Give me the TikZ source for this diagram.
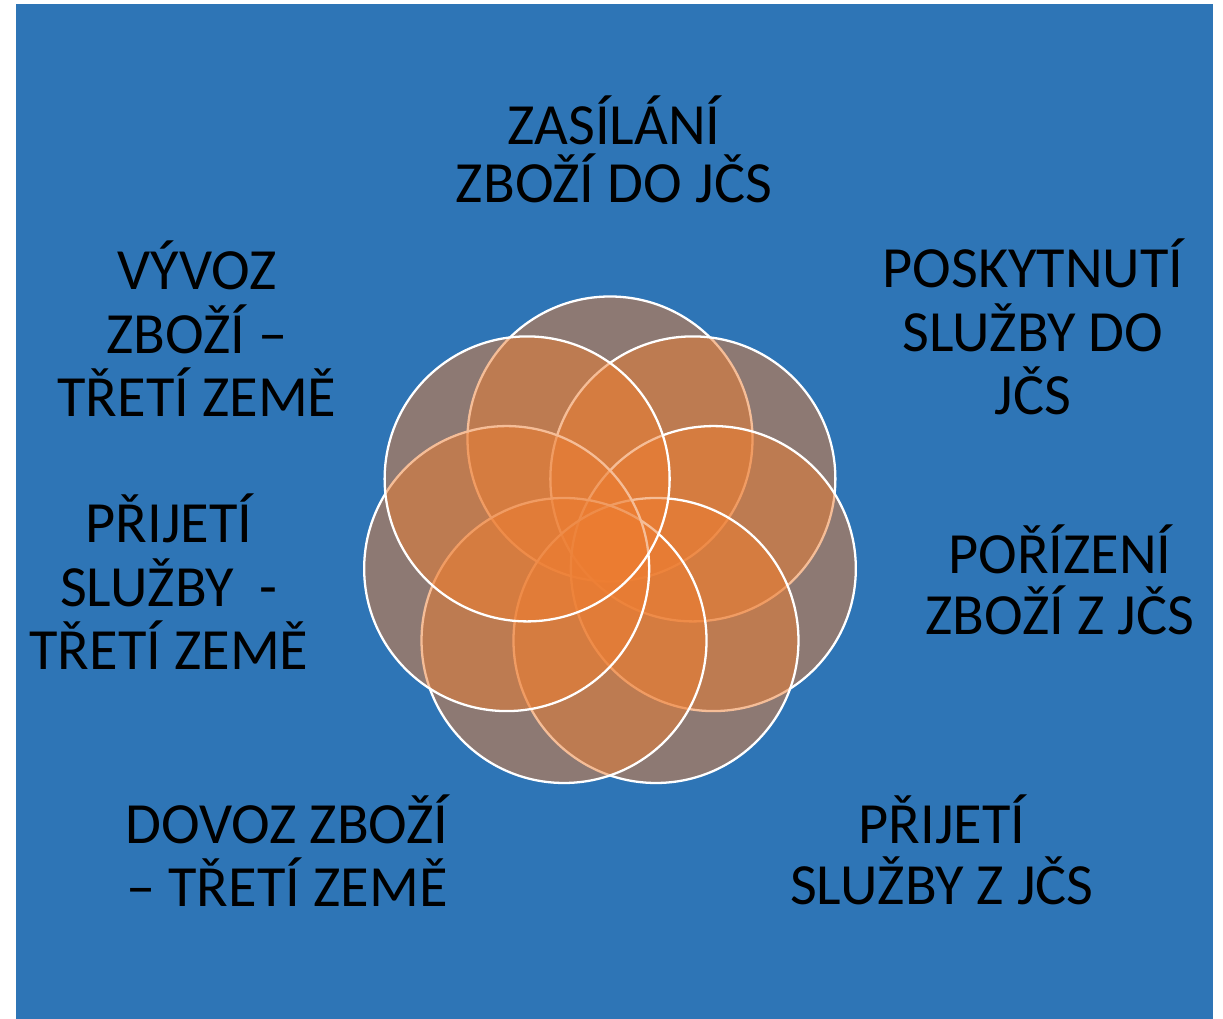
\documentclass[tikz,border=0pt]{standalone}
\usepackage{fontspec}
\setmainfont{Carlito}
\usepackage{xcolor}
\usetikzlibrary{positioning}
\definecolor{slideblue}{RGB}{46,117,182}
\definecolor{petalorange}{RGB}{237,125,49}

\begin{document}
\begin{tikzpicture}[scale=1,
	petal/.style={fill=petalorange, fill opacity=0.5, draw=white, draw opacity=1, line width=0.65pt},
	blurb/.style={font=\fontsize{16.6}{#1}\selectfont, align=center, anchor=base, inner sep=0pt, text=black},
	blurb/.default=18.2pt]
				% page and background
				\useasboundingbox (0,0) rectangle (12.23,10.19);
				\fill[slideblue] (0.16,0) rectangle (12.13,10.15);
				% seven petals around the hub
				\coordinate (hub) at (6.10,4.74);
				\filldraw[petal] (hub) ++(90:1.06) circle (1.425);
				\filldraw[petal] (hub) ++(38.57:1.06) circle (1.425);
				\filldraw[petal] (hub) ++(-12.86:1.06) circle (1.425);
				\filldraw[petal] (hub) ++(-64.29:1.06) circle (1.425);
				\filldraw[petal] (hub) ++(-115.71:1.06) circle (1.425);
				\filldraw[petal] (hub) ++(-167.14:1.06) circle (1.425);
				\filldraw[petal] (hub) ++(141.43:1.06) circle (1.425);
				% labels (anchored at the baseline of the last line)
				\node[blurb=16.5pt] (zasilani) at (6.14,8.16) {ZASÍLÁNÍ\\ZBOŽÍ DO JČS};
				\node[blurb] (poskytnuti) at (10.33,6.04) {POSKYTNUTÍ\\SLUŽBY DO\\JČS};
				\node[blurb=17.4pt] (porizeni) at (10.60,3.84) {POŘÍZENÍ\\ZBOŽÍ Z JČS};
				\node[blurb=17.6pt] (prijetijcs) at (9.42,1.14) {PŘIJETÍ\\SLUŽBY Z JČS};
				\node[blurb] (dovoz) at (2.87,1.12) {DOVOZ ZBOŽÍ\\– TŘETÍ ZEMĚ};
				\node[blurb] (prijetitreti) at (1.69,3.49) {PŘIJETÍ\\SLUŽBY\ \ -\\TŘETÍ ZEMĚ};
				\node[blurb] (vyvoz) at (1.97,6.02) {VÝVOZ\\ZBOŽÍ –\\TŘETÍ ZEMĚ};
			\end{tikzpicture}
\end{document}
